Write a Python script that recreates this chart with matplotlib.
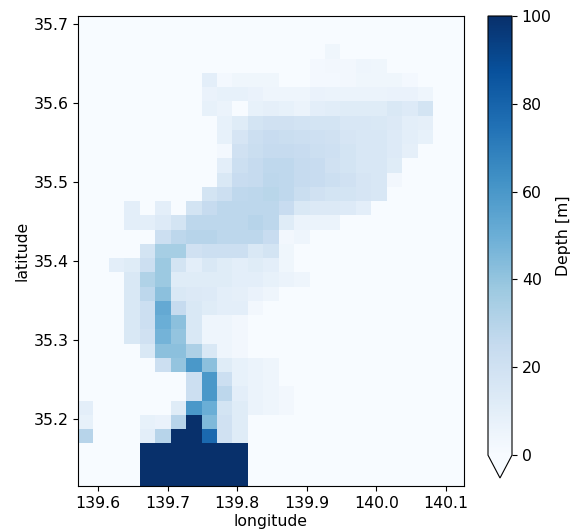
import numpy as np
import matplotlib
matplotlib.use("Agg")
import matplotlib.pyplot as plt

# grid edges of the model domain
lon_start = 139.571
lon_step = 0.0222
lat_start = 35.115
lat_step = 0.01803

# depth [m], bottom row first, 25 columns
depth = [
    [0, 0, 0, 0, 100, 100, 100, 100, 100, 100, 100, 0, 0, 0, 0, 0, 0, 0, 0, 0, 0, 0, 0, 0, 0],
    [0, 0, 0, 0, 100, 100, 100, 100, 100, 100, 100, 0, 0, 0, 0, 0, 0, 0, 0, 0, 0, 0, 0, 0, 0],
    [0, 0, 0, 0, 100, 100, 100, 100, 100, 100, 100, 0, 0, 0, 0, 0, 0, 0, 0, 0, 0, 0, 0, 0, 0],
    [30, 0, 0, 0, 10, 30, 100, 100, 78, 20, 12, 0, 0, 0, 0, 0, 0, 0, 0, 0, 0, 0, 0, 0, 0],
    [8, 0, 0, 0, 8, 7, 30, 100, 45, 20, 12, 0, 0, 0, 0, 0, 0, 0, 0, 0, 0, 0, 0, 0, 0],
    [10, 0, 0, 0, 0, 0, 12, 60, 50, 18, 12, 6, 5, 3, 0, 0, 0, 0, 0, 0, 0, 0, 0, 0, 0],
    [0, 0, 0, 0, 0, 0, 0, 22, 60, 28, 10, 6, 5, 3, 0, 0, 0, 0, 0, 0, 0, 0, 0, 0, 0],
    [0, 0, 0, 0, 0, 0, 0, 22, 60, 22, 8, 6, 5, 0, 0, 0, 0, 0, 0, 0, 0, 0, 0, 0, 0],
    [0, 0, 0, 0, 0, 22, 40, 60, 42, 12, 8, 6, 5, 0, 0, 0, 0, 0, 0, 0, 0, 0, 0, 0, 0],
    [0, 0, 0, 0, 15, 42, 42, 33, 15, 5, 3, 0, 0, 0, 0, 0, 0, 0, 0, 0, 0, 0, 0, 0, 0],
    [0, 0, 0, 15, 20, 48, 40, 15, 5, 5, 3, 0, 0, 0, 0, 0, 0, 0, 0, 0, 0, 0, 0, 0, 0],
    [0, 0, 0, 15, 22, 50, 42, 15, 5, 5, 3, 0, 0, 0, 0, 0, 0, 0, 0, 0, 0, 0, 0, 0, 0],
    [0, 0, 0, 15, 22, 52, 25, 15, 12, 10, 10, 3, 0, 0, 0, 0, 0, 0, 0, 0, 0, 0, 0, 0, 0],
    [0, 0, 0, 15, 28, 42, 15, 14, 13, 10, 9, 7, 5, 0, 0, 0, 0, 0, 0, 0, 0, 0, 0, 0, 0],
    [0, 0, 0, 15, 32, 38, 12, 12, 12, 12, 10, 10, 8, 6, 5, 0, 0, 0, 0, 0, 0, 0, 0, 0, 0],
    [0, 0, 10, 12, 22, 38, 18, 10, 15, 12, 10, 12, 10, 4, 0, 0, 0, 0, 0, 0, 0, 0, 0, 0, 0],
    [0, 0, 0, 0, 18, 35, 35, 20, 22, 22, 22, 15, 18, 4, 0, 0, 0, 0, 0, 0, 0, 0, 0, 0, 0],
    [0, 0, 0, 0, 0, 22, 28, 30, 30, 28, 28, 28, 24, 3, 5, 0, 0, 0, 0, 0, 0, 0, 0, 0, 0],
    [0, 0, 0, 10, 10, 13, 18, 28, 28, 28, 28, 30, 28, 12, 6, 6, 6, 0, 0, 0, 0, 0, 0, 0, 0],
    [0, 0, 0, 10, 0, 10, 0, 18, 25, 28, 28, 28, 28, 24, 15, 14, 14, 13, 10, 0, 0, 0, 0, 0, 0],
    [0, 0, 0, 0, 0, 0, 0, 0, 18, 22, 27, 28, 29, 27, 23, 20, 18, 18, 17, 16, 0, 0, 0, 0, 0],
    [0, 0, 0, 0, 0, 0, 0, 0, 0, 15, 24, 25, 28, 27, 25, 24, 22, 20, 17, 16, 3, 0, 0, 0, 0],
    [0, 0, 0, 0, 0, 0, 0, 0, 0, 10, 22, 25, 27, 27, 25, 24, 20, 18, 16, 16, 12, 0, 0, 0, 0],
    [0, 0, 0, 0, 0, 0, 0, 0, 0, 2, 20, 23, 25, 25, 24, 22, 21, 18, 16, 16, 13, 9, 0, 0, 0],
    [0, 0, 0, 0, 0, 0, 0, 0, 0, 8, 17, 22, 24, 23, 22, 21, 20, 17, 16, 16, 13, 10, 8, 0, 0],
    [0, 0, 0, 0, 0, 0, 0, 0, 0, 8, 12, 18, 20, 20, 19, 18, 18, 16, 16, 15, 14, 10, 9, 0, 0],
    [0, 0, 0, 0, 0, 0, 0, 0, 8, 6, 0, 8, 9, 8, 6, 10, 11, 12, 12, 12, 15, 13, 18, 0, 0],
    [0, 0, 0, 0, 0, 0, 0, 0, 7, 8, 8, 7, 5, 5, 5, 7, 6, 6, 6, 6, 7, 7, 5, 0, 0],
    [0, 0, 0, 0, 0, 0, 0, 0, 10, 2, 4, 4, 4, 0, 0, 2, 2, 3, 4, 4, 4, 2, 0, 0, 0],
    [0, 0, 0, 0, 0, 0, 0, 0, 0, 0, 0, 0, 0, 0, 0, 2, 3, 3, 5, 4, 0, 0, 0, 0, 0],
    [0, 0, 0, 0, 0, 0, 0, 0, 0, 0, 0, 0, 0, 0, 0, 0, 4, 0, 0, 0, 0, 0, 0, 0, 0],
    [0, 0, 0, 0, 0, 0, 0, 0, 0, 0, 0, 0, 0, 0, 0, 0, 0, 0, 0, 0, 0, 0, 0, 0, 0],
    [0, 0, 0, 0, 0, 0, 0, 0, 0, 0, 0, 0, 0, 0, 0, 0, 0, 0, 0, 0, 0, 0, 0, 0, 0],
]

lon_ticks = [139.6, 139.7, 139.8, 139.9, 140.0, 140.1]
lat_ticks = [35.2, 35.3, 35.4, 35.5, 35.6, 35.7]
cbar_ticks = [0, 20, 40, 60, 80, 100]

depth = np.array(depth)
lon = lon_start + lon_step * np.arange(depth.shape[1] + 1)
lat = lat_start + lat_step * np.arange(depth.shape[0] + 1)

W, H = 571, 531
fig = plt.figure(figsize=(W / 100, H / 100), dpi=100)
ax = fig.add_axes([78 / W, (H - 486) / H, 386 / W, 470 / H])
cax = fig.add_axes([488 / W, (H - 478) / H, 24 / W, 462 / H])

pc = ax.pcolormesh(lon, lat, depth, cmap="Blues", vmin=0, vmax=100)
ax.set_xticks(lon_ticks)
ax.set_yticks(lat_ticks)
ax.set_xlim(lon[0], lon[-1])
ax.set_ylim(lat[0], lat[-1])
ax.set_xlabel("longitude", fontsize=11.3, labelpad=2.5)
ax.set_ylabel("latitude", fontsize=11.3, labelpad=3)
ax.tick_params(labelsize=11.3)

cb = fig.colorbar(pc, cax=cax, extend="min", extendfrac=0.052, ticks=cbar_ticks)
cb.set_label("Depth [m]", fontsize=11.3, labelpad=3)
cb.ax.tick_params(labelsize=11.3)

fig.savefig("out.png", dpi=100)
